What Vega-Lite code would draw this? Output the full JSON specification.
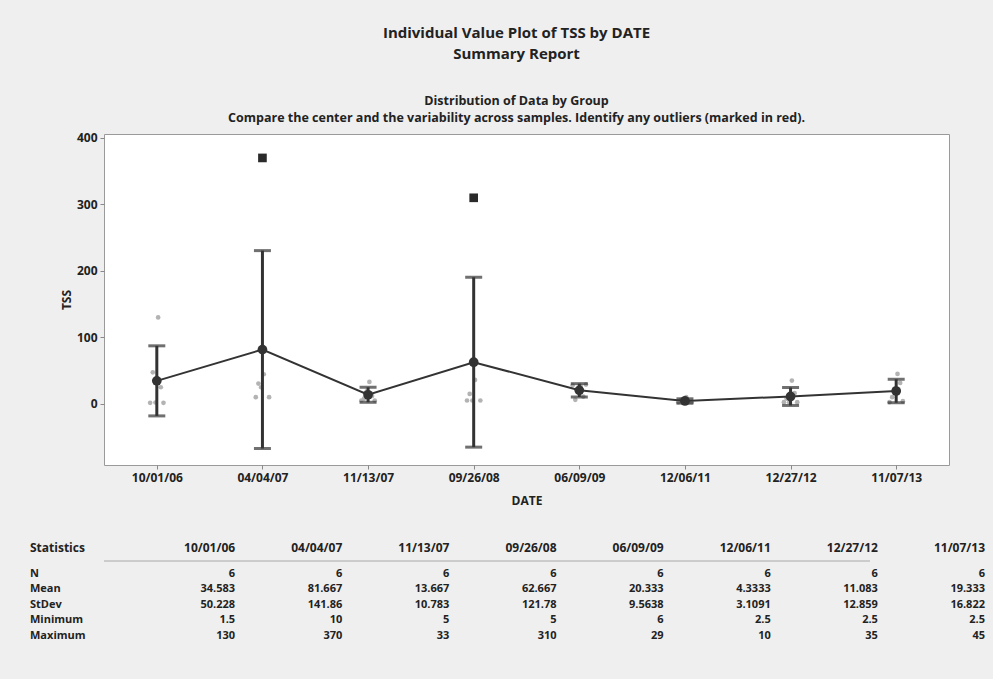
{
  "$schema": "https://vega.github.io/schema/vega-lite/v6.json",
  "width": 845,
  "height": 331,
  "autosize": {"type": "none"},
  "padding": {"left": 104, "top": 134, "right": 44, "bottom": 214},
  "background": "#efefef",
  "config": {
    "font": "Open Sans",
    "view": {"fill": "white", "stroke": "#9a9a9a", "strokeWidth": 1},
    "axis": {
      "domain": false, "grid": false, "tickColor": "#888", "tickSize": 4,
      "labelFont": "Open Sans", "labelFontWeight": "bold", "labelFontSize": 12, "labelColor": "#222",
      "titleFont": "Open Sans", "titleFontWeight": "bold", "titleFontSize": 12, "titleColor": "#222"
    }
  },
  "title": {
    "text": ["Individual Value Plot of TSS by DATE", "Summary Report"],
    "subtitle": ["Distribution of Data by Group", "Compare the center and the variability across samples. Identify any outliers (marked in red)."],
    "font": "Open Sans", "fontSize": 15, "fontWeight": "bold", "color": "#222", "lineHeight": 20.5,
    "subtitleFont": "Open Sans", "subtitleFontSize": 12.5, "subtitleFontWeight": "bold", "subtitleColor": "#222",
    "subtitleLineHeight": 17.5, "subtitlePadding": 33, "offset": 7, "anchor": "middle", "dx": -10
  },
  "datasets": {
    "stats": [
      {"date": "10/01/06", "mean": 34.583, "lo": -18.13, "hi": 87.30},
      {"date": "04/04/07", "mean": 81.667, "lo": -67.21, "hi": 230.54},
      {"date": "11/13/07", "mean": 13.667, "lo": 2.35, "hi": 24.98},
      {"date": "09/26/08", "mean": 62.667, "lo": -65.13, "hi": 190.47},
      {"date": "06/09/09", "mean": 20.333, "lo": 10.30, "hi": 30.37},
      {"date": "12/06/11", "mean": 4.3333, "lo": 1.07, "hi": 7.60},
      {"date": "12/27/12", "mean": 11.083, "lo": -2.41, "hi": 24.58},
      {"date": "11/07/13", "mean": 19.333, "lo": 1.68, "hi": 36.99}
    ],
    "obs": [
      {"date": "10/01/06", "obs": 1, "tss": 1.5, "outlier": false},
      {"date": "10/01/06", "obs": 2, "tss": 47.5, "outlier": false},
      {"date": "10/01/06", "obs": 3, "tss": 2, "outlier": false},
      {"date": "10/01/06", "obs": 4, "tss": 130, "outlier": false},
      {"date": "10/01/06", "obs": 5, "tss": 25, "outlier": false},
      {"date": "10/01/06", "obs": 6, "tss": 1.5, "outlier": false},
      {"date": "04/04/07", "obs": 1, "tss": 10, "outlier": false},
      {"date": "04/04/07", "obs": 2, "tss": 30.5, "outlier": false},
      {"date": "04/04/07", "obs": 3, "tss": 25, "outlier": false},
      {"date": "04/04/07", "obs": 4, "tss": 44.5, "outlier": false},
      {"date": "04/04/07", "obs": 5, "tss": 370, "outlier": true},
      {"date": "04/04/07", "obs": 6, "tss": 10, "outlier": false},
      {"date": "11/13/07", "obs": 1, "tss": 5, "outlier": false},
      {"date": "11/13/07", "obs": 2, "tss": 8, "outlier": false},
      {"date": "11/13/07", "obs": 3, "tss": 19, "outlier": false},
      {"date": "11/13/07", "obs": 4, "tss": 33, "outlier": false},
      {"date": "11/13/07", "obs": 5, "tss": 12, "outlier": false},
      {"date": "11/13/07", "obs": 6, "tss": 5, "outlier": false},
      {"date": "09/26/08", "obs": 1, "tss": 5, "outlier": false},
      {"date": "09/26/08", "obs": 2, "tss": 15, "outlier": false},
      {"date": "09/26/08", "obs": 3, "tss": 5, "outlier": false},
      {"date": "09/26/08", "obs": 4, "tss": 36, "outlier": false},
      {"date": "09/26/08", "obs": 5, "tss": 310, "outlier": true},
      {"date": "09/26/08", "obs": 6, "tss": 5, "outlier": false},
      {"date": "06/09/09", "obs": 1, "tss": 28, "outlier": false},
      {"date": "06/09/09", "obs": 2, "tss": 6, "outlier": false},
      {"date": "06/09/09", "obs": 3, "tss": 22, "outlier": false},
      {"date": "06/09/09", "obs": 4, "tss": 26, "outlier": false},
      {"date": "06/09/09", "obs": 5, "tss": 11, "outlier": false},
      {"date": "06/09/09", "obs": 6, "tss": 29, "outlier": false},
      {"date": "12/06/11", "obs": 1, "tss": 2.5, "outlier": false},
      {"date": "12/06/11", "obs": 2, "tss": 6, "outlier": false},
      {"date": "12/06/11", "obs": 3, "tss": 2.5, "outlier": false},
      {"date": "12/06/11", "obs": 4, "tss": 10, "outlier": false},
      {"date": "12/06/11", "obs": 5, "tss": 2.5, "outlier": false},
      {"date": "12/06/11", "obs": 6, "tss": 2.5, "outlier": false},
      {"date": "12/27/12", "obs": 1, "tss": 2.5, "outlier": false},
      {"date": "12/27/12", "obs": 2, "tss": 8, "outlier": false},
      {"date": "12/27/12", "obs": 3, "tss": 2.5, "outlier": false},
      {"date": "12/27/12", "obs": 4, "tss": 35, "outlier": false},
      {"date": "12/27/12", "obs": 5, "tss": 16, "outlier": false},
      {"date": "12/27/12", "obs": 6, "tss": 2.5, "outlier": false},
      {"date": "11/07/13", "obs": 1, "tss": 2.5, "outlier": false},
      {"date": "11/07/13", "obs": 2, "tss": 10, "outlier": false},
      {"date": "11/07/13", "obs": 3, "tss": 23, "outlier": false},
      {"date": "11/07/13", "obs": 4, "tss": 45, "outlier": false},
      {"date": "11/07/13", "obs": 5, "tss": 31.5, "outlier": false},
      {"date": "11/07/13", "obs": 6, "tss": 4, "outlier": false}
    ],
    "table": [
      {"col": "Statistics", "row": "Statistics", "text": "Statistics"},
      {"col": "Statistics", "row": "N", "text": "N"},
      {"col": "Statistics", "row": "Mean", "text": "Mean"},
      {"col": "Statistics", "row": "StDev", "text": "StDev"},
      {"col": "Statistics", "row": "Minimum", "text": "Minimum"},
      {"col": "Statistics", "row": "Maximum", "text": "Maximum"},
      {"col": "10/01/06", "row": "Statistics", "text": "10/01/06"},
      {"col": "10/01/06", "row": "N", "text": "6"},
      {"col": "10/01/06", "row": "Mean", "text": "34.583"},
      {"col": "10/01/06", "row": "StDev", "text": "50.228"},
      {"col": "10/01/06", "row": "Minimum", "text": "1.5"},
      {"col": "10/01/06", "row": "Maximum", "text": "130"},
      {"col": "04/04/07", "row": "Statistics", "text": "04/04/07"},
      {"col": "04/04/07", "row": "N", "text": "6"},
      {"col": "04/04/07", "row": "Mean", "text": "81.667"},
      {"col": "04/04/07", "row": "StDev", "text": "141.86"},
      {"col": "04/04/07", "row": "Minimum", "text": "10"},
      {"col": "04/04/07", "row": "Maximum", "text": "370"},
      {"col": "11/13/07", "row": "Statistics", "text": "11/13/07"},
      {"col": "11/13/07", "row": "N", "text": "6"},
      {"col": "11/13/07", "row": "Mean", "text": "13.667"},
      {"col": "11/13/07", "row": "StDev", "text": "10.783"},
      {"col": "11/13/07", "row": "Minimum", "text": "5"},
      {"col": "11/13/07", "row": "Maximum", "text": "33"},
      {"col": "09/26/08", "row": "Statistics", "text": "09/26/08"},
      {"col": "09/26/08", "row": "N", "text": "6"},
      {"col": "09/26/08", "row": "Mean", "text": "62.667"},
      {"col": "09/26/08", "row": "StDev", "text": "121.78"},
      {"col": "09/26/08", "row": "Minimum", "text": "5"},
      {"col": "09/26/08", "row": "Maximum", "text": "310"},
      {"col": "06/09/09", "row": "Statistics", "text": "06/09/09"},
      {"col": "06/09/09", "row": "N", "text": "6"},
      {"col": "06/09/09", "row": "Mean", "text": "20.333"},
      {"col": "06/09/09", "row": "StDev", "text": "9.5638"},
      {"col": "06/09/09", "row": "Minimum", "text": "6"},
      {"col": "06/09/09", "row": "Maximum", "text": "29"},
      {"col": "12/06/11", "row": "Statistics", "text": "12/06/11"},
      {"col": "12/06/11", "row": "N", "text": "6"},
      {"col": "12/06/11", "row": "Mean", "text": "4.3333"},
      {"col": "12/06/11", "row": "StDev", "text": "3.1091"},
      {"col": "12/06/11", "row": "Minimum", "text": "2.5"},
      {"col": "12/06/11", "row": "Maximum", "text": "10"},
      {"col": "12/27/12", "row": "Statistics", "text": "12/27/12"},
      {"col": "12/27/12", "row": "N", "text": "6"},
      {"col": "12/27/12", "row": "Mean", "text": "11.083"},
      {"col": "12/27/12", "row": "StDev", "text": "12.859"},
      {"col": "12/27/12", "row": "Minimum", "text": "2.5"},
      {"col": "12/27/12", "row": "Maximum", "text": "35"},
      {"col": "11/07/13", "row": "Statistics", "text": "11/07/13"},
      {"col": "11/07/13", "row": "N", "text": "6"},
      {"col": "11/07/13", "row": "Mean", "text": "19.333"},
      {"col": "11/07/13", "row": "StDev", "text": "16.822"},
      {"col": "11/07/13", "row": "Minimum", "text": "2.5"},
      {"col": "11/07/13", "row": "Maximum", "text": "45"}
    ]
  },
  "layer": [
    {
      "encoding": {
        "x": {
          "field": "date", "type": "nominal", "sort": null,
          "scale": {"type": "point", "padding": 0.5, "domain": ["10/01/06", "04/04/07", "11/13/07", "09/26/08", "06/09/09", "12/06/11", "12/27/12", "11/07/13"]},
          "axis": {"title": "DATE", "labelAngle": 0, "labelPadding": 3, "titlePadding": 12}
        }
      },
      "layer": [
        {
          "data": {"name": "obs"},
          "transform": [{"filter": "!datum.outlier"}],
          "mark": {"type": "circle", "size": 22, "opacity": 1, "color": "#b3b3b3"},
          "encoding": {
            "y": {"field": "tss", "type": "quantitative"},
            "xOffset": {"field": "obs", "type": "ordinal", "scale": {"type": "point", "range": [-8, 8]}}
          }
        },
        {
          "data": {"name": "obs"},
          "transform": [{"filter": "datum.outlier"}],
          "mark": {"type": "square", "size": 75, "opacity": 1, "color": "#2a2a2a"},
          "encoding": {"y": {"field": "tss", "type": "quantitative"}}
        },
        {
          "data": {"name": "stats"},
          "mark": {"type": "rule", "color": "#333", "strokeWidth": 3},
          "encoding": {"y": {"field": "lo", "type": "quantitative"}, "y2": {"field": "hi"}}
        },
        {
          "data": {"name": "stats"},
          "mark": {"type": "tick", "color": "#333", "thickness": 3, "size": 17, "orient": "horizontal"},
          "encoding": {"y": {"field": "lo", "type": "quantitative"}}
        },
        {
          "data": {"name": "stats"},
          "mark": {"type": "tick", "color": "#333", "thickness": 3, "size": 17, "orient": "horizontal"},
          "encoding": {"y": {"field": "hi", "type": "quantitative"}}
        },
        {
          "data": {"name": "stats"},
          "mark": {"type": "line", "color": "#333", "strokeWidth": 2},
          "encoding": {"y": {"field": "mean", "type": "quantitative"}}
        },
        {
          "data": {"name": "stats"},
          "mark": {"type": "circle", "size": 95, "opacity": 1, "color": "#333"},
          "encoding": {
            "y": {
              "field": "mean", "type": "quantitative",
              "scale": {"domain": [-92, 406], "nice": false, "zero": false},
              "axis": {"title": "TSS", "values": [0, 100, 200, 300, 400], "labelPadding": 3, "titlePadding": 3}
            }
          }
        }
      ]
    },
    {
      "data": {"name": "table"},
      "encoding": {
        "y": {
          "field": "row", "type": "nominal", "sort": null,
          "scale": {"type": "point", "padding": 0, "domain": ["Statistics", "N", "Mean", "StDev", "Minimum", "Maximum"], "range": [424, 501.5]},
          "axis": null
        }
      },
      "layer": [
        {
          "transform": [{"filter": "datum.col == 'Statistics' && datum.row == 'Statistics'"}],
          "mark": {"type": "rule", "color": "#a8a8a8", "strokeWidth": 1, "yOffset": 3, "xOffset": -79, "x2Offset": 39}
        },
        {
          "transform": [{"filter": "datum.col != 'Statistics' && datum.row != 'Statistics'"}],
          "mark": {"type": "text", "align": "right", "baseline": "middle", "font": "Open Sans", "fontWeight": "bold", "fontSize": 11, "color": "#222"},
          "encoding": {
            "x": {
              "field": "col", "type": "nominal", "sort": null,
              "scale": {"type": "point", "padding": 0, "domain": ["Statistics", "10/01/06", "04/04/07", "11/13/07", "09/26/08", "06/09/09", "12/06/11", "12/27/12", "11/07/13"], "range": [24, 881]},
              "axis": null
            },
            "text": {"field": "text"}
          }
        },
        {
          "transform": [{"filter": "datum.col != 'Statistics' && datum.row == 'Statistics'"}],
          "mark": {"type": "text", "align": "right", "baseline": "middle", "yOffset": -10, "font": "Open Sans", "fontWeight": "bold", "fontSize": 12, "color": "#222"},
          "encoding": {
            "x": {"field": "col", "type": "nominal", "sort": null, "axis": null},
            "text": {"field": "text"}
          }
        },
        {
          "transform": [{"filter": "datum.col == 'Statistics' && datum.row != 'Statistics'"}],
          "mark": {"type": "text", "align": "left", "baseline": "middle", "dx": -98, "font": "Open Sans", "fontWeight": "bold", "fontSize": 11, "color": "#222"},
          "encoding": {
            "x": {"field": "col", "type": "nominal", "sort": null, "axis": null},
            "text": {"field": "text"}
          }
        },
        {
          "transform": [{"filter": "datum.col == 'Statistics' && datum.row == 'Statistics'"}],
          "mark": {"type": "text", "align": "left", "baseline": "middle", "dx": -98, "yOffset": -10, "font": "Open Sans", "fontWeight": "bold", "fontSize": 12, "color": "#222"},
          "encoding": {
            "x": {"field": "col", "type": "nominal", "sort": null, "axis": null},
            "text": {"field": "text"}
          }
        }
      ]
    }
  ],
  "resolve": {"scale": {"x": "independent", "y": "independent"}, "axis": {"x": "independent", "y": "independent"}}
}
